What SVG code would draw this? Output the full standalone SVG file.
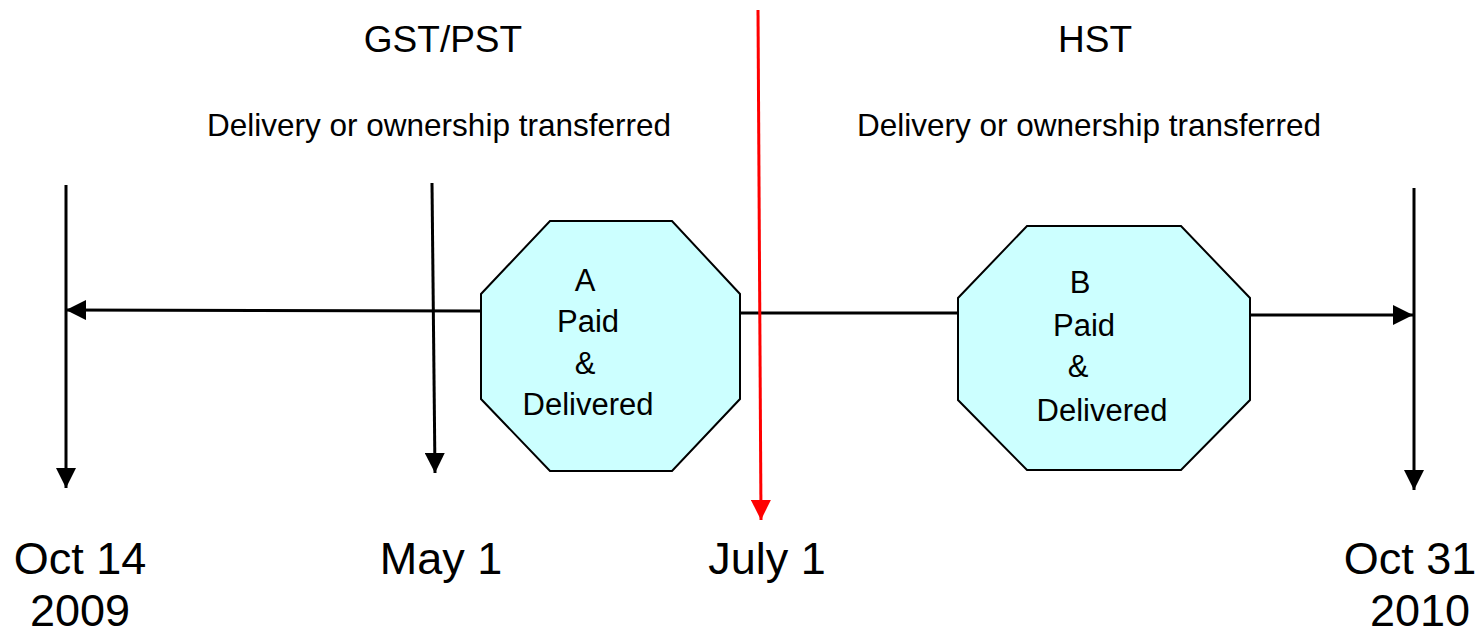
<svg xmlns="http://www.w3.org/2000/svg" width="1482" height="634" viewBox="0 0 1482 634">
  <style>
    text { font-family: "Liberation Sans", Arial, sans-serif; fill: #000; }
    .title { font-size: 37px; text-anchor: middle; }
    .sub { font-size: 31.5px; text-anchor: middle; }
    .date { font-size: 45px; text-anchor: middle; }
    .node { font-size: 31px; text-anchor: middle; }
    .oct { fill: #CCFFFF; stroke: #000; stroke-width: 2; }
    .ln { stroke: #000; stroke-width: 3; fill: none; }
    .red { stroke: #FF0000; stroke-width: 3; fill: none; }
  </style>
  <defs>
    <marker id="arrowBlack" markerUnits="userSpaceOnUse" markerWidth="20" markerHeight="20" refX="20" refY="10" orient="auto" viewBox="0 0 20 20">
      <path d="M0,0 L20,10 L0,20 Z" fill="#000"/>
    </marker>
    <marker id="arrowRed" markerUnits="userSpaceOnUse" markerWidth="20" markerHeight="20" refX="20" refY="10" orient="auto" viewBox="0 0 20 20">
      <path d="M0,0 L20,10 L0,20 Z" fill="#FF0000"/>
    </marker>
  </defs>

  <rect width="1482" height="634" fill="#fff"/>

  <!-- headings -->
  <g id="headings">
    <text class="title" x="443" y="52">GST/PST</text>
    <text class="title" x="1095" y="52">HST</text>
    <text class="sub" x="439" y="136">Delivery or ownership transferred</text>
    <text class="sub" x="1089" y="136">Delivery or ownership transferred</text>
  </g>

  <!-- timeline connectors -->
  <g id="connectors">
    <line class="ln" x1="66" y1="185" x2="66" y2="488" marker-end="url(#arrowBlack)"/>
    <line class="ln" x1="432" y1="183" x2="435" y2="473" marker-end="url(#arrowBlack)"/>
    <line class="ln" x1="1414" y1="188" x2="1414" y2="490" marker-end="url(#arrowBlack)"/>
    <line class="ln" x1="481" y1="311" x2="66" y2="310" marker-end="url(#arrowBlack)"/>
    <line class="ln" x1="740" y1="313" x2="958" y2="313"/>
    <line class="ln" x1="1250" y1="315" x2="1413" y2="315" marker-end="url(#arrowBlack)"/>
    <line class="red" x1="758" y1="10" x2="761" y2="520" marker-end="url(#arrowRed)"/>
  </g>

  <!-- event A -->
  <g id="nodeA">
    <polygon class="oct" points="550,221 672,221 740,294 740,399 672,471 550,471 481,399 481,294"/>
    <text class="node" x="585" y="291">A</text>
    <text class="node" x="588" y="332">Paid</text>
    <text class="node" x="585" y="374">&amp;</text>
    <text class="node" x="588" y="415">Delivered</text>
  </g>

  <!-- event B -->
  <g id="nodeB">
    <polygon class="oct" points="1027,226 1181,226 1250,298 1250,400 1181,470 1027,470 958,400 958,298"/>
    <text class="node" x="1080" y="293">B</text>
    <text class="node" x="1084" y="336">Paid</text>
    <text class="node" x="1078" y="377">&amp;</text>
    <text class="node" x="1102" y="421">Delivered</text>
  </g>

  <!-- date labels -->
  <g id="dates">
    <text class="date" x="80" y="574">Oct 14</text>
    <text class="date" x="80" y="626">2009</text>
    <text class="date" x="441" y="574">May 1</text>
    <text class="date" x="767" y="574">July 1</text>
    <text class="date" x="1410" y="574">Oct 31</text>
    <text class="date" x="1420" y="626">2010</text>
  </g>
</svg>
